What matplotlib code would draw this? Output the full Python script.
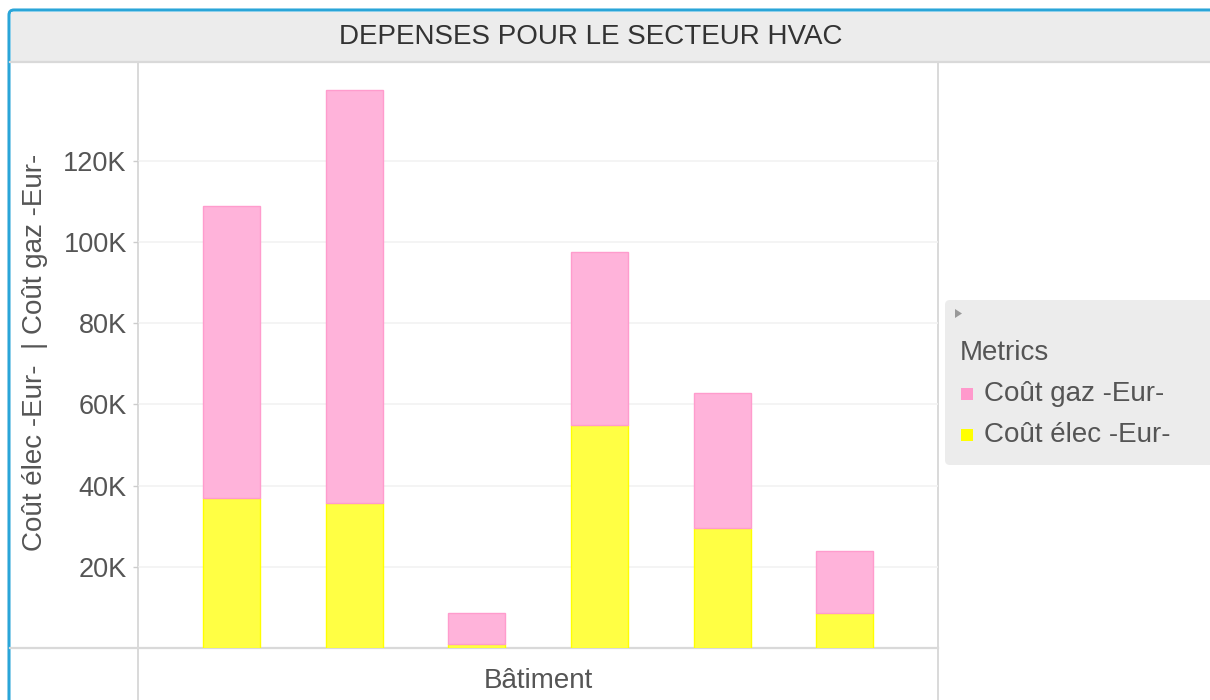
import matplotlib
matplotlib.use('Agg')
import matplotlib.pyplot as plt
from matplotlib.patches import Rectangle, FancyBboxPatch, Polygon

## Data (values in K Eur)
batiments = ['B1', 'B2', 'B3', 'B4', 'B5', 'B6']
cout_elec = [36.9, 35.7, 1.0, 54.9, 29.6, 8.6]
cout_gaz = [72.0, 101.7, 7.6, 42.6, 33.2, 15.3]
yticks = [20, 40, 60, 80, 100, 120]
ytick_labels = ['20K', '40K', '60K', '80K', '100K', '120K']

## Style
plt.rcParams['font.family'] = ['Liberation Sans', 'DejaVu Sans']
TXT = '#555555'
PINK = '#ffb3da'
PINK_EDGE = '#ff9ccd'
YELLOW = '#ffff44'
YELLOW_EDGE = '#ffff00'
LINE = '#d9d9d9'

W, H = 1210, 700
fig = plt.figure(figsize=(W / 100, H / 100), dpi=100)

# Background canvas in pixel coordinates
bg = fig.add_axes([0, 0, 1, 1])
bg.set_xlim(0, W)
bg.set_ylim(H, 0)
bg.axis('off')

# Blue panel border with rounded top-left corner
bg.add_patch(FancyBboxPatch((9, 10), 1220, 720,
                            boxstyle='round,pad=0,rounding_size=5',
                            facecolor='white', edgecolor='#2aa5d8', lw=2.2))
# Title bar
bg.add_patch(Rectangle((10.5, 11.5), W, 50.5, facecolor='#ececec', edgecolor='none'))
bg.plot([10, W], [62, 62], color=LINE, lw=1.6)
bg.text(591, 37, 'DEPENSES POUR LE SECTEUR HVAC', ha='center', va='center',
        fontsize=20, color='#333333')

# Grid frame lines
bg.plot([138, 138], [62, H], color=LINE, lw=1.4)
bg.plot([938, 938], [62, H], color=LINE, lw=1.4)
bg.plot([10, 938], [648, 648], color=LINE, lw=1.6)

# X label in the bottom strip
bg.text(538, 681, 'Bâtiment', ha='center', va='center', fontsize=20, color=TXT)

# Y label
bg.text(35, 352, 'Coût élec -Eur-  | Coût gaz -Eur-', rotation=90,
        ha='center', va='center', fontsize=20, color=TXT)

# Legend box
bg.add_patch(FancyBboxPatch((945, 300), 280, 165,
                            boxstyle='round,pad=0,rounding_size=5',
                            facecolor='#ececec', edgecolor='none'))
bg.add_patch(Polygon([[955, 309], [955, 318], [962, 313.5]], closed=True,
                     facecolor='#999999', edgecolor='none'))
bg.text(960, 353, 'Metrics', ha='left', va='center', fontsize=20, color=TXT)
legend_items = [('Coût gaz -Eur-', '#ff99cc'), ('Coût élec -Eur-', '#ffff00')]
for i, (lab, col) in enumerate(legend_items):
    yy = 394 + i * 41
    bg.add_patch(Rectangle((961, yy - 6), 12, 12, facecolor=col, edgecolor='none'))
    bg.text(984, yy, lab, ha='left', va='center', fontsize=20, color=TXT)

# Main plot area
ax = fig.add_axes([138 / W, (H - 648) / H, 800 / W, (648 - 62) / H])
ax.set_facecolor('none')
x = list(range(len(batiments)))
ax.bar(x, cout_elec, width=0.465, color=YELLOW, edgecolor=YELLOW_EDGE, lw=1, zorder=3)
ax.bar(x, cout_gaz, bottom=cout_elec, width=0.465, color=PINK,
       edgecolor=PINK_EDGE, lw=1, zorder=3)
ax.set_xlim(-0.763, 5.76)
ax.set_ylim(0, 144.3)
ax.set_yticks(yticks)
ax.set_yticklabels(ytick_labels)
ax.set_xticks([])
ax.tick_params(axis='y', length=3.6, width=1, color='#cccccc', pad=4.5,
               labelsize=19.5, labelcolor=TXT)
ax.grid(axis='y', color='#f2f2f2', lw=1.2, zorder=0)
for s in ax.spines.values():
    s.set_visible(False)

fig.savefig('out.png', dpi=100)
